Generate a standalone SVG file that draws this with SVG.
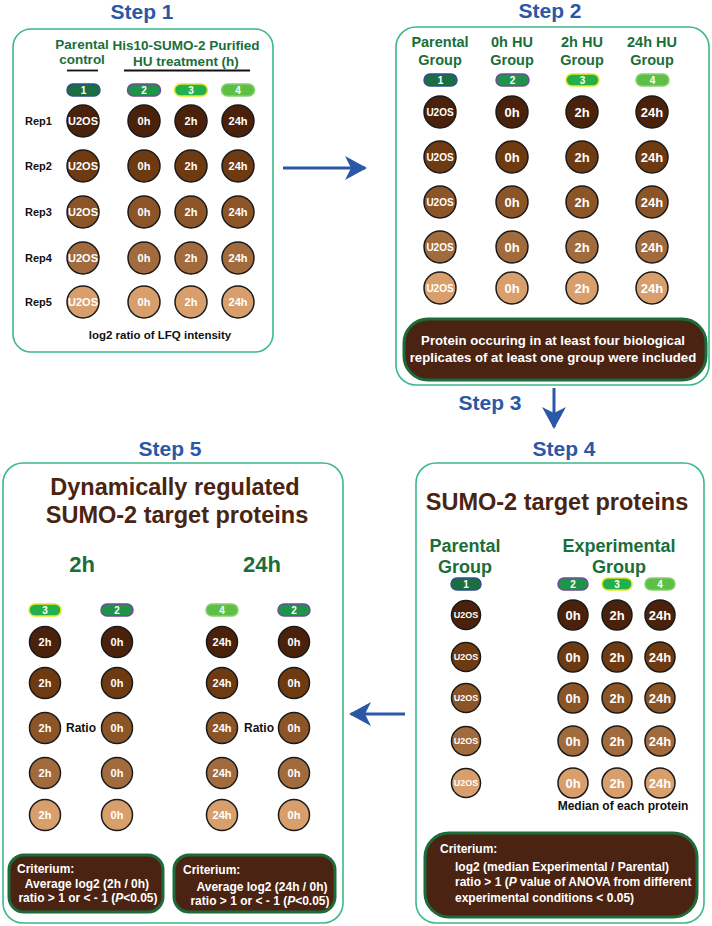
<svg xmlns="http://www.w3.org/2000/svg" width="712" height="926" viewBox="0 0 712 926">
<defs>
<style>
text{font-family:"Liberation Sans",Arial,sans-serif;font-weight:bold}
.title{font-size:21px;fill:#2b58a6;text-anchor:middle}
.box{fill:#fff;stroke:#3cb88b;stroke-width:1.6}
.crit{fill:#4b2312;stroke:#1d6b3a;stroke-width:3}
.gh{fill:#1a6e3a;text-anchor:middle}
.bh{fill:#4a2410;text-anchor:middle}
.wt{fill:#fff}
.c{stroke:#1a1a1a;stroke-width:1.5}
.r1{fill:#4a220c}.r2{fill:#6d3a12}.r3{fill:#8b5527}.r4{fill:#a26b3d}.r5{fill:#d89f6d}
.p1{fill:#1b6e3f;stroke:#2c4f8f;stroke-width:1.5}
.p2{fill:#1f9448;stroke:#6c4c98;stroke-width:1.5}
.p3{fill:#22b04b;stroke:#e6e62a;stroke-width:1.5}
.p4{fill:#5dbf45;stroke:#86d070;stroke-width:1.5}
.pt{fill:#fff;font-size:10px;text-anchor:middle}
.ct{fill:#fff;text-anchor:middle}
.blk{fill:#111}
.arr{stroke:#2b58a6;stroke-width:3;fill:none}
</style>
<marker id="ah" markerUnits="userSpaceOnUse" markerWidth="24" markerHeight="26" refX="20" refY="12" orient="auto">
<path d="M0,0 L22,12 L0,24 L6,12 z" fill="#2b58a6"/>
</marker>
</defs>
<rect width="712" height="926" fill="#fff"/>

<g id="step1">
<text class="title" x="142" y="19">Step 1</text>
<rect class="box" x="13" y="29" width="260" height="323" rx="18"/>
<g class="gh" font-size="13.5">
<text x="82" y="49">Parental</text><text x="82" y="64">control</text>
<text x="186" y="50">His10-SUMO-2 Purified</text><text x="186" y="66">HU treatment (h)</text>
</g>
<line x1="67" y1="70.5" x2="98" y2="70.5" stroke="#111" stroke-width="1.8"/>
<line x1="124" y1="70.5" x2="250" y2="70.5" stroke="#111" stroke-width="1.8"/>
<rect class="p1" x="67" y="84" width="33" height="12" rx="6"/><text class="pt" x="83.5" y="93.5">1</text>
<rect class="p2" x="127.5" y="84" width="33" height="12" rx="6"/><text class="pt" x="144" y="93.5">2</text>
<rect class="p3" x="174.5" y="84" width="33" height="12" rx="6"/><text class="pt" x="191" y="93.5">3</text>
<rect class="p4" x="221.5" y="84" width="33" height="12" rx="6"/><text class="pt" x="238" y="93.5">4</text>
<g class="blk" font-size="11" text-anchor="middle">
<text x="38.5" y="125">Rep1</text><text x="38.5" y="170">Rep2</text><text x="38.5" y="216">Rep3</text><text x="38.5" y="262">Rep4</text><text x="38.5" y="306">Rep5</text>
</g>
<g class="c">
<circle class="r1" cx="83" cy="121" r="16"/><circle class="r1" cx="144" cy="121" r="16"/><circle class="r1" cx="191" cy="121" r="16"/><circle class="r1" cx="238" cy="121" r="16"/>
<circle class="r2" cx="83" cy="166" r="16"/><circle class="r2" cx="144" cy="166" r="16"/><circle class="r2" cx="191" cy="166" r="16"/><circle class="r2" cx="238" cy="166" r="16"/>
<circle class="r3" cx="83" cy="212" r="16"/><circle class="r3" cx="144" cy="212" r="16"/><circle class="r3" cx="191" cy="212" r="16"/><circle class="r3" cx="238" cy="212" r="16"/>
<circle class="r4" cx="83" cy="258" r="16"/><circle class="r4" cx="144" cy="258" r="16"/><circle class="r4" cx="191" cy="258" r="16"/><circle class="r4" cx="238" cy="258" r="16"/>
<circle class="r5" cx="83" cy="302" r="16"/><circle class="r5" cx="144" cy="302" r="16"/><circle class="r5" cx="191" cy="302" r="16"/><circle class="r5" cx="238" cy="302" r="16"/>
</g>
<g class="ct" font-size="11">
<text x="83" y="125">U2OS</text><text x="144" y="125">0h</text><text x="191" y="125">2h</text><text x="238" y="125">24h</text>
<text x="83" y="170">U2OS</text><text x="144" y="170">0h</text><text x="191" y="170">2h</text><text x="238" y="170">24h</text>
<text x="83" y="216">U2OS</text><text x="144" y="216">0h</text><text x="191" y="216">2h</text><text x="238" y="216">24h</text>
<text x="83" y="262">U2OS</text><text x="144" y="262">0h</text><text x="191" y="262">2h</text><text x="238" y="262">24h</text>
<text x="83" y="306">U2OS</text><text x="144" y="306">0h</text><text x="191" y="306">2h</text><text x="238" y="306">24h</text>
</g>
<text class="blk" x="160" y="339" font-size="11.5" text-anchor="middle">log2 ratio of LFQ intensity</text>
</g>

<g id="step2">
<text class="title" x="550" y="18">Step 2</text>
<rect class="box" x="396" y="27" width="313" height="358" rx="20"/>
<g class="gh" font-size="14.5">
<text x="440" y="47">Parental</text><text x="440" y="65">Group</text>
<text x="512" y="47">0h HU</text><text x="512" y="65">Group</text>
<text x="582" y="47">2h HU</text><text x="582" y="65">Group</text>
<text x="652" y="47">24h HU</text><text x="652" y="65">Group</text>
</g>
<rect class="p1" x="424" y="74" width="33" height="12" rx="6"/><text class="pt" x="440.5" y="83.5">1</text>
<rect class="p2" x="496" y="74" width="33" height="12" rx="6"/><text class="pt" x="512.5" y="83.5">2</text>
<rect class="p3" x="566" y="74" width="33" height="12" rx="6"/><text class="pt" x="582.5" y="83.5">3</text>
<rect class="p4" x="636" y="74" width="33" height="12" rx="6"/><text class="pt" x="652.5" y="83.5">4</text>
<g class="c">
<circle class="r1" cx="440" cy="112" r="16"/><circle class="r1" cx="512" cy="112" r="16"/><circle class="r1" cx="582" cy="112" r="16"/><circle class="r1" cx="652" cy="112" r="16"/>
<circle class="r2" cx="440" cy="157" r="16"/><circle class="r2" cx="512" cy="157" r="16"/><circle class="r2" cx="582" cy="157" r="16"/><circle class="r2" cx="652" cy="157" r="16"/>
<circle class="r3" cx="440" cy="202" r="16"/><circle class="r3" cx="512" cy="202" r="16"/><circle class="r3" cx="582" cy="202" r="16"/><circle class="r3" cx="652" cy="202" r="16"/>
<circle class="r4" cx="440" cy="247" r="16"/><circle class="r4" cx="512" cy="247" r="16"/><circle class="r4" cx="582" cy="247" r="16"/><circle class="r4" cx="652" cy="247" r="16"/>
<circle class="r5" cx="440" cy="288" r="16"/><circle class="r5" cx="512" cy="288" r="16"/><circle class="r5" cx="582" cy="288" r="16"/><circle class="r5" cx="652" cy="288" r="16"/>
</g>
<g class="ct" font-size="10">
<text x="440" y="115.5">U2OS</text><text x="440" y="160.5">U2OS</text><text x="440" y="205.5">U2OS</text><text x="440" y="250.5">U2OS</text><text x="440" y="291.5">U2OS</text>
</g>
<g class="ct" font-size="13">
<text x="512" y="116.5">0h</text><text x="582" y="116.5">2h</text><text x="652" y="116.5">24h</text>
<text x="512" y="161.5">0h</text><text x="582" y="161.5">2h</text><text x="652" y="161.5">24h</text>
<text x="512" y="206.5">0h</text><text x="582" y="206.5">2h</text><text x="652" y="206.5">24h</text>
<text x="512" y="251.5">0h</text><text x="582" y="251.5">2h</text><text x="652" y="251.5">24h</text>
<text x="512" y="292.5">0h</text><text x="582" y="292.5">2h</text><text x="652" y="292.5">24h</text>
</g>
<rect class="crit" x="404" y="319" width="302" height="61" rx="24"/>
<g class="ct" font-size="13.2">
<text x="553" y="345">Protein occuring in at least four biological</text>
<text x="553" y="362">replicates of at least one group were included</text>
</g>
</g>

<g id="step3">
<text class="title" x="490" y="410">Step 3</text>
</g>

<g id="step4">
<text class="title" x="564" y="456">Step 4</text>
<rect class="box" x="416" y="463" width="288" height="460" rx="20"/>
<text class="bh" x="557" y="510" font-size="23.5">SUMO-2 target proteins</text>
<g class="gh" font-size="18">
<text x="465" y="552">Parental</text><text x="465" y="573">Group</text>
<text x="619" y="552">Experimental</text><text x="619" y="573">Group</text>
</g>
<rect class="p1" x="451" y="578" width="30" height="12" rx="6"/><text class="pt" x="466" y="587.5">1</text>
<rect class="p2" x="558" y="578" width="30" height="12" rx="6"/><text class="pt" x="573" y="587.5">2</text>
<rect class="p3" x="602" y="578" width="30" height="12" rx="6"/><text class="pt" x="617" y="587.5">3</text>
<rect class="p4" x="645" y="578" width="30" height="12" rx="6"/><text class="pt" x="660" y="587.5">4</text>
<g class="c">
<circle class="r1" cx="466" cy="615" r="14.5"/><circle class="r1" cx="573" cy="615" r="15"/><circle class="r1" cx="617" cy="615" r="15"/><circle class="r1" cx="660" cy="615" r="15"/>
<circle class="r2" cx="466" cy="657" r="14.5"/><circle class="r2" cx="573" cy="657" r="15"/><circle class="r2" cx="617" cy="657" r="15"/><circle class="r2" cx="660" cy="657" r="15"/>
<circle class="r3" cx="466" cy="698" r="14.5"/><circle class="r3" cx="573" cy="698" r="15"/><circle class="r3" cx="617" cy="698" r="15"/><circle class="r3" cx="660" cy="698" r="15"/>
<circle class="r4" cx="466" cy="741" r="14.5"/><circle class="r4" cx="573" cy="741" r="15"/><circle class="r4" cx="617" cy="741" r="15"/><circle class="r4" cx="660" cy="741" r="15"/>
<circle class="r5" cx="466" cy="783" r="14.5"/><circle class="r5" cx="573" cy="783" r="15"/><circle class="r5" cx="617" cy="783" r="15"/><circle class="r5" cx="660" cy="783" r="15"/>
</g>
<g class="ct" font-size="9">
<text x="466" y="618.2">U2OS</text><text x="466" y="660.2">U2OS</text><text x="466" y="701.2">U2OS</text><text x="466" y="744.2">U2OS</text><text x="466" y="786.2">U2OS</text>
</g>
<g class="ct" font-size="13">
<text x="573" y="619.5">0h</text><text x="617" y="619.5">2h</text><text x="660" y="619.5">24h</text>
<text x="573" y="661.5">0h</text><text x="617" y="661.5">2h</text><text x="660" y="661.5">24h</text>
<text x="573" y="702.5">0h</text><text x="617" y="702.5">2h</text><text x="660" y="702.5">24h</text>
<text x="573" y="745.5">0h</text><text x="617" y="745.5">2h</text><text x="660" y="745.5">24h</text>
<text x="573" y="787.5">0h</text><text x="617" y="787.5">2h</text><text x="660" y="787.5">24h</text>
</g>
<text class="blk" x="623" y="810" font-size="12" text-anchor="middle">Median of each protein</text>
<rect class="crit" x="425" y="833" width="272" height="84" rx="24"/>
<g class="wt" font-size="12">
<text x="440" y="853">Criterium:</text>
<text x="455" y="871">log2 (median Experimental / Parental)</text>
<text x="455" y="886">ratio &gt; 1 (<tspan font-style="italic">P</tspan> value of ANOVA from different</text>
<text x="455" y="902">experimental conditions &lt; 0.05)</text>
</g>
</g>

<g id="step5">
<text class="title" x="170" y="456">Step 5</text>
<rect class="box" x="3" y="463" width="340" height="460" rx="20"/>
<g class="bh" font-size="23.5">
<text x="175" y="495">Dynamically regulated</text>
<text x="177" y="523">SUMO-2 target proteins</text>
</g>
<g class="gh" font-size="22">
<text x="82" y="572">2h</text><text x="262" y="572">24h</text>
</g>
<rect class="p3" x="29" y="604" width="32" height="12" rx="6"/><text class="pt" x="45" y="613.5">3</text>
<rect class="p2" x="101" y="604" width="32" height="12" rx="6"/><text class="pt" x="117" y="613.5">2</text>
<rect class="p4" x="206" y="604" width="32" height="12" rx="6"/><text class="pt" x="222" y="613.5">4</text>
<rect class="p2" x="278" y="604" width="32" height="12" rx="6"/><text class="pt" x="294" y="613.5">2</text>
<g class="c">
<circle class="r1" cx="45" cy="642" r="15.5"/><circle class="r1" cx="117" cy="642" r="15.5"/><circle class="r1" cx="222" cy="642" r="15.5"/><circle class="r1" cx="294" cy="642" r="15.5"/>
<circle class="r2" cx="45" cy="683" r="15.5"/><circle class="r2" cx="117" cy="683" r="15.5"/><circle class="r2" cx="222" cy="683" r="15.5"/><circle class="r2" cx="294" cy="683" r="15.5"/>
<circle class="r3" cx="45" cy="728" r="15.5"/><circle class="r3" cx="117" cy="728" r="15.5"/><circle class="r3" cx="222" cy="728" r="15.5"/><circle class="r3" cx="294" cy="728" r="15.5"/>
<circle class="r4" cx="45" cy="773" r="15.5"/><circle class="r4" cx="117" cy="773" r="15.5"/><circle class="r4" cx="222" cy="773" r="15.5"/><circle class="r4" cx="294" cy="773" r="15.5"/>
<circle class="r5" cx="45" cy="815" r="15.5"/><circle class="r5" cx="117" cy="815" r="15.5"/><circle class="r5" cx="222" cy="815" r="15.5"/><circle class="r5" cx="294" cy="815" r="15.5"/>
</g>
<g class="ct" font-size="11">
<text x="45" y="646">2h</text><text x="117" y="646">0h</text><text x="222" y="646">24h</text><text x="294" y="646">0h</text>
<text x="45" y="687">2h</text><text x="117" y="687">0h</text><text x="222" y="687">24h</text><text x="294" y="687">0h</text>
<text x="45" y="732">2h</text><text x="117" y="732">0h</text><text x="222" y="732">24h</text><text x="294" y="732">0h</text>
<text x="45" y="777">2h</text><text x="117" y="777">0h</text><text x="222" y="777">24h</text><text x="294" y="777">0h</text>
<text x="45" y="819">2h</text><text x="117" y="819">0h</text><text x="222" y="819">24h</text><text x="294" y="819">0h</text>
</g>
<g class="blk" font-size="12" text-anchor="middle">
<text x="81" y="732">Ratio</text><text x="259" y="732">Ratio</text>
</g>
<rect class="crit" x="9" y="855" width="154" height="57" rx="15"/>
<rect class="crit" x="174" y="855" width="161" height="57" rx="15"/>
<g class="wt" font-size="12">
<text x="17" y="873">Criterium:</text>
<text x="87" y="888" text-anchor="middle">Average log2 (2h / 0h)</text>
<text x="88" y="902" text-anchor="middle">ratio &gt; 1 or &lt; - 1 (<tspan font-style="italic">P</tspan>&lt;0.05)</text>
<text x="183" y="874">Criterium:</text>
<text x="262" y="891" text-anchor="middle">Average log2 (24h / 0h)</text>
<text x="260" y="905" text-anchor="middle">ratio &gt; 1 or &lt; - 1 (<tspan font-style="italic">P</tspan>&lt;0.05)</text>
</g>
</g>

<g id="connectors">
<line class="arr" x1="283" y1="168" x2="365" y2="168" marker-end="url(#ah)"/>
<line class="arr" x1="554" y1="388" x2="554" y2="427" marker-end="url(#ah)"/>
<line class="arr" x1="405" y1="714" x2="351" y2="714" marker-end="url(#ah)"/>
</g>
</svg>
